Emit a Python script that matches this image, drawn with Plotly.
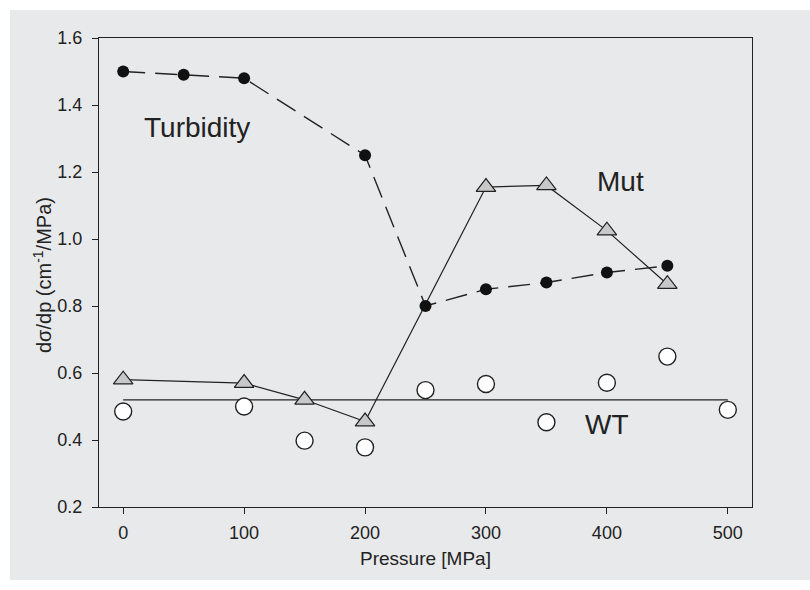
import plotly.graph_objects as go

# Data
turb_x = [0, 50, 100, 200, 250, 300, 350, 400, 450]
turb_y = [1.50, 1.49, 1.48, 1.25, 0.80, 0.85, 0.87, 0.90, 0.92]

mut_x = [0, 100, 150, 200, 300, 350, 400, 450]
mut_y = [0.58, 0.57, 0.52, 0.455, 1.155, 1.16, 1.025, 0.865]

wt_x = [0, 100, 150, 200, 250, 300, 350, 400, 450, 500]
wt_y = [0.485, 0.50, 0.398, 0.378, 0.549, 0.567, 0.453, 0.571, 0.649, 0.49]

wt_mean_x = [0, 500]
wt_mean_y = [0.52, 0.52]

x_ticks = [0, 100, 200, 300, 400, 500]
y_ticks = [0.2, 0.4, 0.6, 0.8, 1.0, 1.2, 1.4, 1.6]

INK = "#222222"
BG = "#e8e9eb"
FONT = "Liberation Sans, Arial, sans-serif"

fig = go.Figure()

fig.add_trace(go.Scatter(x=wt_mean_x, y=wt_mean_y, mode="lines",
                         line=dict(color=INK, width=1.2), showlegend=False))
fig.add_trace(go.Scatter(x=turb_x, y=turb_y, mode="lines",
                         line=dict(color=INK, width=1.4, dash="22px,10px"), showlegend=False))
fig.add_trace(go.Scatter(x=mut_x, y=mut_y, mode="lines",
                         line=dict(color=INK, width=1.2), showlegend=False))
fig.add_trace(go.Scatter(x=turb_x, y=turb_y, mode="markers",
                         marker=dict(symbol="circle", size=12, color="#111111",
                                     line=dict(width=0)), showlegend=False))
fig.add_trace(go.Scatter(x=mut_x, y=mut_y, mode="markers",
                         marker=dict(symbol="triangle-up", size=17, color="#c8c8c8",
                                     line=dict(color=INK, width=1.2)), showlegend=False))
fig.add_trace(go.Scatter(x=wt_x, y=wt_y, mode="markers",
                         marker=dict(symbol="circle", size=17, color="white",
                                     line=dict(color=INK, width=1.4)), showlegend=False))

L, R, T, B = 99, 58, 38, 83
W, H = 810, 590
pw, ph = W - L - R, H - T - B

fig.add_shape(type="rect", xref="paper", yref="paper", layer="below",
              x0=(10 - L) / pw, x1=(W - L) / pw,
              y0=(H - B - 580) / ph, y1=(H - B - 10) / ph,
              fillcolor=BG, line=dict(width=0))

ann_font = dict(family=FONT, size=28, color=INK)
fig.add_annotation(x=61, y=1.333, text="Turbidity", showarrow=False, font=ann_font)
fig.add_annotation(x=411.5, y=1.172, text="Mut", showarrow=False, font=ann_font)
fig.add_annotation(x=400.4, y=0.446, text="WT", showarrow=False, font=ann_font)

fig.add_annotation(xref="paper", yref="paper", x=(42 - L) / pw, y=(H - B - 275) / ph,
                   text="dσ/dp (cm<sup>-1</sup>/MPa)", textangle=-90, showarrow=False,
                   xanchor="center", yanchor="middle",
                   font=dict(family=FONT, size=20, color=INK))
fig.add_annotation(xref="paper", yref="paper", x=(426 - L) / pw, y=(H - B - 558) / ph,
                   text="Pressure [MPa]", showarrow=False,
                   xanchor="center", yanchor="middle",
                   font=dict(family=FONT, size=19, color=INK))

axis_common = dict(showline=True, mirror=True, linecolor=INK, linewidth=1.4,
                   ticks="outside", ticklen=6, tickwidth=1.2, tickcolor=INK,
                   showgrid=False, zeroline=False,
                   tickfont=dict(family=FONT, size=18, color=INK))

fig.update_xaxes(range=[-20, 520], tickvals=x_ticks, ticklabelstandoff=3,
                 ticktext=[str(v) for v in x_ticks], **axis_common)
fig.update_yaxes(range=[0.2, 1.6], tickvals=y_ticks, ticklabelstandoff=6,
                 ticktext=[f"{v:.1f}" for v in y_ticks], **axis_common)

fig.update_layout(width=W, height=H, margin=dict(l=L, r=R, t=T, b=B),
                  paper_bgcolor="white", plot_bgcolor=BG,
                  font=dict(family=FONT, color=INK))

fig.write_html("out.html")
